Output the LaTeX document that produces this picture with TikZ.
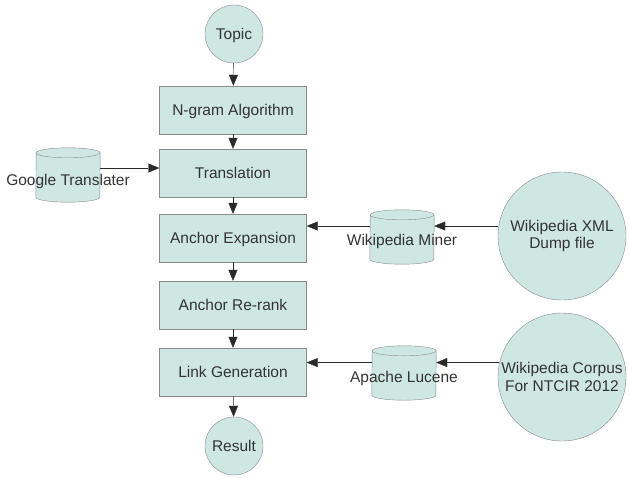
\documentclass[tikz,border=0pt]{standalone}
\usepackage{fontspec}
\setmainfont{Liberation Sans}
\usetikzlibrary{arrows.meta}
\definecolor{boxfill}{HTML}{CFE7E2}
\definecolor{boxline}{HTML}{8A8A8A}
\definecolor{txt}{HTML}{333333}
\definecolor{wire}{HTML}{2A2A2A}

\tikzset{
  stepbox/.style={draw=boxline, fill=boxfill, minimum width=147pt, minimum height=48pt, inner sep=0pt, text depth=0pt},
  ball/.style={circle, draw=boxline, fill=boxfill, inner sep=0pt},
  store/.style={minimum width=64pt, minimum height=54pt, inner sep=0pt},
  tag/.style={text depth=0pt, inner sep=0pt},
  arr/.style={draw=wire, -{Triangle[length=11pt,width=9pt]}},
}

% drum around a named node
\newcommand{\drum}[1]{%
  \filldraw[draw=boxline, fill=boxfill] ([yshift=5pt]#1.south west)
    arc[start angle=180, end angle=360, x radius=32pt, y radius=5pt]
    -- ([yshift=-5pt]#1.north east)
    arc[start angle=0, end angle=180, x radius=32pt, y radius=5pt] -- cycle;
  \draw[boxline] ([yshift=-5pt]#1.north west)
    arc[start angle=180, end angle=360, x radius=32pt, y radius=5pt];
}

\begin{document}
\begin{tikzpicture}[x=1pt, y=-1pt, font=\fontsize{15.5}{17.5}\selectfont, text=txt]
\useasboundingbox (0,0) rectangle (629,477);

% main chain
\node[ball, minimum size=58pt, text depth=0pt] (topic) at (234,34) {Topic};
\node[stepbox] (ngram) at (233,110) {N-gram Algorithm};
\node[stepbox] (trans) at (233,173) {Translation};
\node[stepbox] (expand) at (233,238) {Anchor Expansion};
\node[stepbox] (rerank) at (233,305) {Anchor Re-rank};
\node[stepbox] (linkgen) at (233,372) {Link Generation};
\node[ball, minimum size=58pt, text depth=0pt] (result) at (234,446) {Result};

% side inputs
\node[store] (google) at (68,175) {};
\drum{google}
\node[tag] (googletxt) at (68,180) {Google Translater};
\node[store] (miner) at (402,237) {};
\drum{miner}
\node[tag] (minertxt) at (402,240) {Wikipedia Miner};
\node[store] (lucene) at (404,373) {};
\drum{lucene}
\node[tag] (lucenetxt) at (404,377) {Apache Lucene};
\node[ball, minimum size=128pt, align=center] (xml) at (562,236) {Wikipedia XML\\Dump file};
\node[ball, minimum size=128pt, align=center] (corpus) at (562,377) {Wikipedia Corpus\\For NTCIR 2012};

% arrows
\draw[arr] (topic) -- (ngram);
\draw[arr] (ngram) -- (trans);
\draw[arr] (trans) -- (expand);
\draw[arr] (expand) -- (rerank);
\draw[arr] (rerank) -- (linkgen);
\draw[arr] (linkgen) -- (result);

\draw[arr] ([yshift=7pt]google.east) -- ([yshift=7pt]google.east -| trans.west);
\draw[arr] ([yshift=10pt]xml.west) -- ([yshift=10pt]xml.west -| miner.east);
\draw[arr] ([yshift=10pt]xml.west -| miner.west) -- ([yshift=10pt]xml.west -| expand.east);
\draw[arr] (corpus.167) -- (corpus.167 -| lucene.east);
\draw[arr] (corpus.167 -| lucene.west) -- (corpus.167 -| linkgen.east);
\end{tikzpicture}
\end{document}
